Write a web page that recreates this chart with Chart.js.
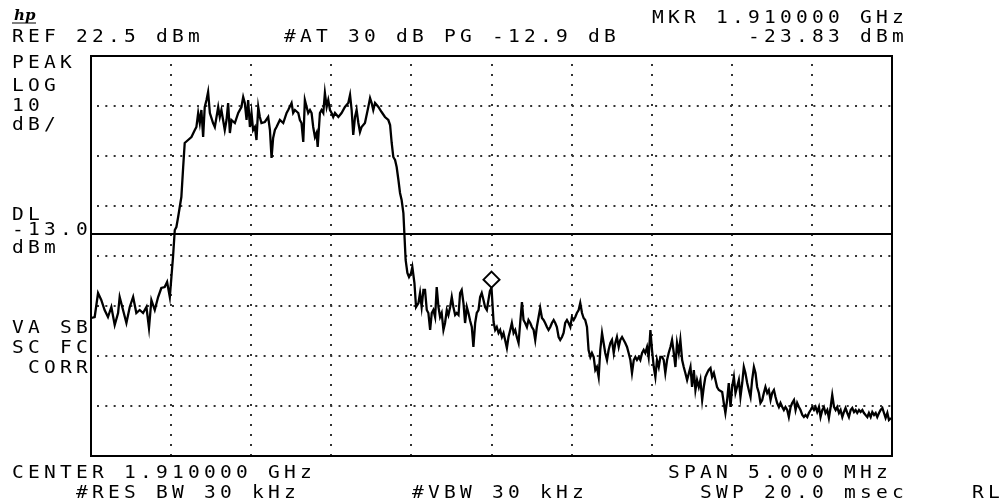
<!DOCTYPE html>
<html>
<head>
<meta charset="utf-8">
<script src="https://cdn.jsdelivr.net/npm/chart.js@4/dist/chart.umd.min.js"></script>
<style>
  html, body { margin: 0; padding: 0; background: #fff; }
  #wrap { width: 1004px; height: 504px; }
</style>
</head>
<body>
<div id="wrap"><canvas id="sa" width="1004" height="504"></canvas></div>
<script>
// Sweep: frequency offset from center (MHz) and level (dBm).
const sweepFreqMHz = [
  -2.498,-2.477,-2.456,-2.436,-2.415,-2.394,-2.373,-2.352,-2.331,-2.321,
  -2.300,-2.279,-2.258,-2.237,-2.217,-2.196,-2.175,-2.154,-2.138,-2.123,
  -2.102,-2.081,-2.061,-2.040,-2.025,-2.008,-1.998,-1.988,-1.977,-1.967,
  -1.956,-1.946,-1.936,-1.925,-1.915,-1.894,-1.873,-1.852,-1.842,-1.831,
  -1.821,-1.811,-1.800,-1.790,-1.779,-1.769,-1.758,-1.738,-1.727,-1.706,
  -1.696,-1.686,-1.665,-1.654,-1.644,-1.633,-1.623,-1.602,-1.581,-1.561,
  -1.550,-1.540,-1.529,-1.519,-1.508,-1.498,-1.488,-1.477,-1.467,-1.456,
  -1.446,-1.436,-1.415,-1.394,-1.383,-1.373,-1.363,-1.352,-1.342,-1.321,
  -1.300,-1.279,
  -1.269,-1.248,-1.238,-1.227,-1.206,-1.196,-1.186,-1.175,-1.165,-1.154,
  -1.144,-1.133,-1.123,-1.113,-1.102,-1.092,-1.085,-1.071,-1.061,-1.050,
  -1.040,-1.029,-1.019,-1.008,-0.998,-0.988,-0.977,-0.956,-0.936,-0.915,
  -0.894,-0.883,-0.873,-0.863,-0.852,-0.842,-0.831,-0.821,-0.811,-0.790,
  -0.769,-0.758,-0.748,-0.738,-0.727,-0.706,-0.686,-0.665,-0.644,-0.633,
  -0.623,-0.613,-0.602,-0.592,-0.581,-0.571,-0.561,-0.550,-0.544,-0.536,
  -0.525,-0.515,-0.502,-0.494,-0.481,-0.471,-0.456,-0.446,-0.436,-0.425,
  -0.415,-0.404,-0.394,-0.383,-0.373,-0.363,-0.352,-0.342,-0.331,-0.321,
  -0.311,-0.300,-0.290,-0.279,-0.269,-0.258,-0.248,-0.238,-0.227,-0.217,
  -0.206,-0.196,-0.186,-0.175,-0.165,-0.154,-0.144,-0.133,-0.123,-0.113,
  -0.102,-0.092,-0.081,-0.071,-0.061,-0.050,-0.040,-0.029,-0.010,0.000,
  0.013,0.023,0.033,0.044,0.054,0.065,0.075,0.085,0.096,0.106,
  0.117,0.127,0.138,0.148,0.158,0.169,0.179,0.190,0.200,0.210,
  0.221,0.231,0.242,0.252,0.263,0.273,0.283,0.294,0.304,0.315,
  0.325,0.335,0.346,0.356,0.367,0.377,0.388,0.398,0.408,0.419,
  0.429,0.440,0.450,0.460,0.471,0.481,0.492,0.502,0.513,0.523,
  0.533,0.544,0.554,0.565,0.575,0.585,0.596,0.606,0.617,0.627,
  0.638,0.648,0.658,0.669,0.679,0.690,0.700,0.710,0.721,0.731,
  0.742,0.752,0.763,0.773,0.783,0.794,0.804,0.815,0.825,0.835,
  0.846,0.856,0.867,0.877,0.888,0.898,0.908,0.919,0.929,0.940,
  0.950,0.960,0.971,0.981,0.992,1.002,1.013,1.023,1.033,1.044,
  1.054,1.065,1.075,1.085,1.096,1.106,1.117,1.127,1.138,1.148,
  1.158,1.169,1.179,1.190,1.200,1.210,1.221,
  1.242,1.252,1.263,1.273,1.283,1.294,1.304,1.315,1.325,1.335,
  1.346,1.356,1.367,1.377,1.388,1.398,1.408,1.419,1.440,1.450,
  1.460,1.471,1.481,1.492,1.502,1.513,1.523,1.533,1.544,1.554,
  1.565,1.575,1.585,1.596,1.606,1.617,1.627,1.638,1.648,1.658,
  1.669,1.679,1.690,1.700,1.710,1.721,1.731,1.742,1.752,1.763,
  1.773,1.783,1.794,1.804,1.815,1.825,1.835,1.846,1.856,1.867,
  1.877,1.888,1.898,1.908,1.919,1.929,1.940,1.950,1.960,1.971,
  1.981,1.992,2.002,2.013,2.023,2.033,2.044,2.054,2.065,2.075,
  2.085,2.096,2.106,2.117,2.127,2.138,2.148,2.158,2.169,2.179,
  2.190,2.200,2.210,2.221,2.231,2.242,2.252,2.263,2.273,2.283,
  2.294,2.304,2.315,2.325,2.335,2.346,2.356,2.367,2.377,2.388,
  2.398,2.408,2.419,2.429,2.440,2.450,2.460,2.471,2.481,2.494
];
const sweepLevelDbm = [
  -29.9,-29.7,-24.9,-26.3,-28.3,-29.7,-27.7,-31.3,-28.9,-25.7,
  -28.3,-30.9,-27.7,-25.7,-28.9,-28.3,-28.9,-27.7,-31.9,-26.3,
  -28.3,-25.7,-23.9,-23.7,-22.7,-25.7,-21.7,-17.7,-12.3,-11.7,
  -9.7,-7.7,-5.7,0.1,5.1,5.7,6.3,7.7,8.3,11.1,
  9.1,11.7,6.3,12.3,13.7,15.3,11.1,9.1,8.3,12.3,
  10.3,11.7,7.7,9.7,13.1,7.1,9.7,9.1,11.1,12.3,
  14.3,13.1,9.7,13.7,8.3,11.1,7.7,8.3,5.7,12.3,
  10.3,9.1,9.3,10.3,7.7,2.1,6.1,7.7,8.3,9.7,
  9.1,11.1,
  11.7,13.1,11.1,11.7,11.1,9.7,9.1,5.3,13.7,12.3,
  11.1,11.7,11.1,8.3,6.3,7.1,4.3,11.1,11.7,11.1,
  15.1,12.3,13.7,11.7,11.1,10.3,11.1,10.3,11.1,12.3,
  13.1,14.7,11.7,6.7,10.3,11.7,9.1,7.3,8.3,9.1,
  12.3,14.1,13.1,11.7,13.1,12.3,11.3,10.3,9.7,8.7,
  5.1,2.3,1.7,0.3,-2.3,-4.9,-6.3,-8.9,-12.9,-18.3,
  -20.9,-21.7,-20.9,-19.7,-22.9,-27.7,-26.9,-24.9,-27.7,-24.3,
  -24.3,-28.3,-28.9,-32.3,-28.9,-28.3,-29.7,-23.7,-27.7,-29.7,
  -28.9,-32.3,-30.9,-28.3,-29.3,-27.7,-25.7,-27.7,-29.3,-28.9,
  -29.3,-24.9,-24.3,-26.9,-30.9,-27.7,-28.9,-30.5,-31.7,-35.7,
  -30.9,-28.9,-28.3,-25.7,-24.9,-26.3,-27.7,-28.3,-24.5,-23.83,
  -30.7,-32.3,-31.7,-32.9,-32.3,-33.7,-32.9,-34.3,-35.9,-33.7,
  -32.3,-30.9,-32.9,-32.3,-33.7,-34.9,-30.9,-26.7,-30.3,-30.9,
  -31.7,-30.3,-30.9,-31.7,-32.3,-34.3,-31.7,-29.7,-27.9,-29.9,
  -30.3,-30.9,-31.7,-32.3,-31.7,-30.9,-30.3,-30.9,-31.7,-33.7,
  -34.3,-33.7,-32.9,-30.9,-30.3,-30.9,-31.7,-29.7,-30.3,-29.7,
  -28.9,-28.3,-26.9,-28.9,-29.9,-30.3,-31.7,-36.3,-37.7,-36.9,
  -37.7,-40.3,-39.7,-41.7,-36.3,-32.9,-34.9,-36.9,-38.3,-36.3,
  -34.9,-34.3,-36.9,-34.9,-33.7,-35.7,-34.3,-33.7,-34.3,-34.9,
  -35.7,-36.9,-38.3,-40.9,-38.3,-37.7,-38.3,-37.7,-38.3,-36.9,
  -36.3,-36.9,-35.7,-37.7,-32.3,-36.3,-39.7,-41.7,-38.3,-39.7,
  -37.7,-37.7,-38.3,-40.9,-38.3,-36.9,-35.7,-34.3,-36.9,-39.7,
  -34.9,-36.9,-34.3,-38.3,-39.7,-40.9,-42.3,
  -39.7,-43.7,-40.3,-44.3,-42.3,-43.7,-42.3,-46.3,-43.7,-41.7,
  -40.9,-40.3,-39.9,-41.7,-40.9,-42.3,-43.7,-44.3,-44.7,-46.9,
  -48.9,-46.3,-42.9,-47.7,-43.7,-41.7,-44.9,-43.7,-42.3,-45.7,
  -42.9,-39.7,-40.9,-42.9,-44.3,-45.7,-42.3,-39.7,-40.9,-43.7,
  -44.9,-46.9,-46.3,-44.9,-43.7,-44.9,-44.3,-46.3,-44.9,-44.3,
  -45.7,-46.9,-47.7,-46.9,-47.7,-48.3,-47.7,-48.3,-49.7,-47.7,
  -46.9,-46.3,-48.3,-46.9,-47.7,-48.3,-49.3,-49.7,-49.3,-49.7,
  -48.9,-48.3,-47.7,-48.3,-47.7,-48.7,-47.7,-49.7,-48.3,-47.7,
  -48.9,-48.3,-49.9,-47.7,-45.3,-47.7,-48.3,-47.7,-48.9,-48.3,
  -49.7,-48.7,-47.9,-48.9,-49.7,-48.3,-47.9,-48.7,-48.3,-48.9,
  -48.3,-48.7,-48.3,-48.9,-49.3,-49.7,-48.9,-49.7,-48.7,-49.3,
  -48.9,-49.7,-48.9,-48.3,-47.9,-48.9,-49.9,-48.9,-50.3,-49.9
];

// Screen settings
const refLevel = 22.5;          // dBm, top graticule line
const bottomLevel = -57.5;      // 8 div x 10 dB below ref
const levelGrid = [22.5, 12.5, 2.5, -7.5, -17.5, -27.5, -37.5, -47.5, -57.5];
const spanMHz = 5;
const displayLine = -13.0;      // DL, dBm
const markerFreq = 0.0;         // MHz offset (1.910000 GHz)
const markerLevel = -23.83;     // dBm

// Annotation text, laid out on the analyzer's 16 px character grid
const annotations = [
  { t: "MKR 1.910000 GHz", col: 40, y: 23 },
  { t: "REF 22.5 dBm", col: 0, y: 42 },
  { t: "#AT 30 dB PG -12.9 dB", col: 17, y: 42 },
  { t: "-23.83 dBm", col: 46, y: 42 },
  { t: "PEAK", col: 0, y: 68 },
  { t: "LOG", col: 0, y: 91 },
  { t: "10", col: 0, y: 111 },
  { t: "dB/", col: 0, y: 130 },
  { t: "DL", col: 0, y: 220 },
  { t: "-13.0", col: 0, y: 235 },
  { t: "dBm", col: 0, y: 253 },
  { t: "VA SB", col: 0, y: 333 },
  { t: "SC FC", col: 0, y: 353 },
  { t: " CORR", col: 0, y: 373 },
  { t: "CENTER 1.910000 GHz", col: 0, y: 478 },
  { t: "SPAN 5.000 MHz", col: 41, y: 478 },
  { t: "#RES BW 30 kHz", col: 4, y: 498 },
  { t: "#VBW 30 kHz", col: 25, y: 498 },
  { t: "SWP 20.0 msec", col: 43, y: 498 },
  { t: "RL", col: 60, y: 498 }
];

function monoText(ctx, str, col, y) {
    for (let i = 0; i < str.length; i++) {
        const ch = str[i];
        if (ch === " ") continue;
        ctx.save();
        ctx.translate(12 + (col + i) * 16, y);
        ctx.scale(1.15, 1);
        ctx.fillText(ch, 0, 0);
        ctx.restore();
    }
}

const screenPlugin = {
    id: "screen",
    afterDatasetsDraw(chart) {
        const ctx = chart.ctx;
        const a = chart.chartArea;
        const xs = chart.scales.x, ys = chart.scales.y;
        ctx.save();
        ctx.strokeStyle = "#000";
        ctx.fillStyle = "#000";

        // graticule frame
        ctx.lineWidth = 2;
        ctx.strokeRect(a.left, a.top, a.right - a.left, a.bottom - a.top);

        // display line
        const dy = Math.round(ys.getPixelForValue(displayLine));
        ctx.beginPath();
        ctx.moveTo(a.left, dy);
        ctx.lineTo(a.right, dy);
        ctx.stroke();

        // marker diamond sitting on the trace
        const mx = xs.getPixelForValue(markerFreq);
        const my = ys.getPixelForValue(markerLevel);
        const h = 8;
        ctx.beginPath();
        ctx.moveTo(mx, my);
        ctx.lineTo(mx + h, my - h);
        ctx.lineTo(mx, my - 2 * h);
        ctx.lineTo(mx - h, my - h);
        ctx.closePath();
        ctx.fillStyle = "#fff";
        ctx.fill();
        ctx.stroke();

        // texts
        ctx.fillStyle = "#000";
        ctx.font = '17px "DejaVu Sans Mono"';
        ctx.textBaseline = "alphabetic";
        annotations.forEach(r => monoText(ctx, r.t, r.col, r.y));

        // hp logo
        ctx.font = 'italic bold 15px "DejaVu Serif"';
        ctx.fillText("hp", 14, 20);
        ctx.lineWidth = 1;
        ctx.beginPath();
        ctx.moveTo(12, 23);
        ctx.lineTo(36, 23);
        ctx.stroke();
        ctx.restore();
    }
};

const ctx = document.getElementById("sa").getContext("2d");

new Chart(ctx, {
    type: "line",
    data: {
        datasets: [{
            data: sweepFreqMHz.map((f, i) => ({ x: f, y: sweepLevelDbm[i] })),
            borderColor: "#000",
            borderWidth: 2.3,
            pointRadius: 0,
            tension: 0,
            fill: false
        }]
    },
    options: {
        responsive: false,
        animation: false,
        events: [],
        layout: {
            padding: { left: 91, top: 56, right: 112, bottom: 48 }
        },
        plugins: {
            legend: { display: false },
            tooltip: { enabled: false }
        },
        scales: {
            x: {
                type: "linear",
                min: -spanMHz / 2,
                max: spanMHz / 2,
                ticks: { display: false, stepSize: 0.5 },
                grid: {
                    drawTicks: false,
                    lineWidth: 2,
                    color: c => (c.index === 0 || c.index === 10) ? "rgba(0,0,0,0)" : "#333"
                },
                border: { display: false, dash: [2, 8], dashOffset: -8 }
            },
            y: {
                type: "linear",
                min: bottomLevel,
                max: refLevel,
                afterBuildTicks: s => { s.ticks = levelGrid.map(v => ({ value: v })); },
                ticks: { display: false },
                grid: {
                    drawTicks: false,
                    lineWidth: 2,
                    color: c => (c.tick && (c.tick.value === refLevel || c.tick.value === bottomLevel)) ? "rgba(0,0,0,0)" : "#333"
                },
                border: { display: false, dash: [2, 6.33], dashOffset: -6 }
            }
        }
    },
    plugins: [screenPlugin]
});
</script>
</body>
</html>
